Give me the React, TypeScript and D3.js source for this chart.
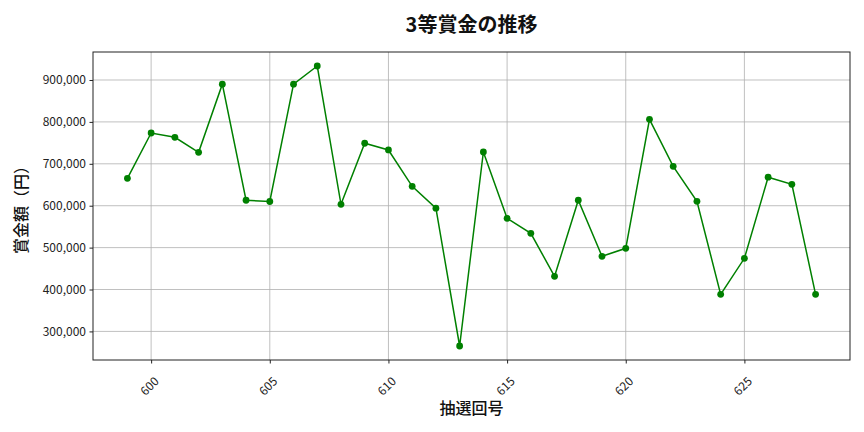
import React, { useEffect, useRef } from "react";
import * as d3 from "d3";

// draw numbers (抽選回号) and 3rd-prize amounts (yen)
const draws = [
  599, 600, 601, 602, 603, 604, 605, 606, 607, 608, 609, 610, 611, 612, 613,
  614, 615, 616, 617, 618, 619, 620, 621, 622, 623, 624, 625, 626, 627, 628,
];
const prizes = [
  665400, 773500, 763200, 727400, 890000, 613000, 610000, 890000, 933400,
  603300, 749000, 733000, 646300, 594000, 265200, 728200, 570000, 534000,
  431500, 613000, 479200, 498300, 806200, 694000, 610500, 388500, 474500,
  668000, 651000, 388500,
];
const yTicks = [300000, 400000, 500000, 600000, 700000, 800000, 900000];
const xTicks = [600, 605, 610, 615, 620, 625];

const W = 864;
const H = 432;
const margin = { top: 52, right: 14, bottom: 72, left: 93 };
const FONT = "'Noto Sans CJK JP', 'Noto Sans', sans-serif";

export default function App() {
  const svgRef = useRef<SVGSVGElement>(null);

  useEffect(() => {
    if (!svgRef.current) return;
    const svg = d3.select(svgRef.current);
    svg.selectAll("*").remove();

    const iw = W - margin.left - margin.right;
    const ih = H - margin.top - margin.bottom;

    // matplotlib-style 5% padding on both axes
    const [x0, x1] = d3.extent(draws) as [number, number];
    const xPad = (x1 - x0) * 0.05;
    const x = d3.scaleLinear().domain([x0 - xPad, x1 + xPad]).range([0, iw]);

    const [y0, y1] = d3.extent(prizes) as [number, number];
    const yPad = (y1 - y0) * 0.05;
    const y = d3.scaleLinear().domain([y0 - yPad, y1 + yPad]).range([ih, 0]);

    const g = svg
      .append("g")
      .attr("transform", `translate(${margin.left},${margin.top})`);

    // grid
    g.selectAll(".gx")
      .data(xTicks)
      .enter()
      .append("line")
      .attr("x1", (d) => x(d))
      .attr("x2", (d) => x(d))
      .attr("y1", 0)
      .attr("y2", ih)
      .attr("stroke", "#b0b0b0")
      .attr("stroke-width", 0.8);
    g.selectAll(".gy")
      .data(yTicks)
      .enter()
      .append("line")
      .attr("x1", 0)
      .attr("x2", iw)
      .attr("y1", (d) => y(d))
      .attr("y2", (d) => y(d))
      .attr("stroke", "#b0b0b0")
      .attr("stroke-width", 0.8);

    // line + markers
    const pts = draws.map((d, i) => [d, prizes[i]] as [number, number]);
    const line = d3
      .line<[number, number]>()
      .x((d) => x(d[0]))
      .y((d) => y(d[1]));
    g.append("path")
      .datum(pts)
      .attr("d", line)
      .attr("fill", "none")
      .attr("stroke", "green")
      .attr("stroke-width", 1.5);
    g.selectAll(".pt")
      .data(pts)
      .enter()
      .append("circle")
      .attr("cx", (d) => x(d[0]))
      .attr("cy", (d) => y(d[1]))
      .attr("r", 3.4)
      .attr("fill", "green");

    // frame
    g.append("rect")
      .attr("width", iw)
      .attr("height", ih)
      .attr("fill", "none")
      .attr("stroke", "#222")
      .attr("stroke-width", 1);

    // y axis
    const yAxis = g
      .append("g")
      .call(
        d3
          .axisLeft(y)
          .tickValues(yTicks)
          .tickSize(3.5)
          .tickPadding(3.5)
          .tickFormat((d) => d3.format(",")(d as number))
      );
    yAxis.select(".domain").remove();
    yAxis
      .selectAll("text")
      .attr("font-family", FONT)
      .attr("font-size", 12)
      .attr("fill", "#222");
    yAxis.selectAll("line").attr("stroke", "#222");

    // x axis
    const xAxis = g
      .append("g")
      .attr("transform", `translate(0,${ih})`)
      .call(d3.axisBottom(x).tickValues(xTicks).tickSize(3.5).tickFormat(d3.format("d")));
    xAxis.select(".domain").remove();
    xAxis.selectAll("line").attr("stroke", "#222");
    xAxis
      .selectAll("text")
      .attr("font-family", FONT)
      .attr("font-size", 12)
      .attr("fill", "#222")
      .attr("text-anchor", "end")
      .attr("dy", null)
      .attr("y", 0)
      .attr("transform", "translate(8,22) rotate(-45)");

    // titles
    svg
      .append("text")
      .attr("x", margin.left + iw / 2)
      .attr("y", 32)
      .attr("text-anchor", "middle")
      .attr("font-family", FONT)
      .attr("font-size", 20)
      .attr("font-weight", "bold")
      .attr("fill", "#111")
      .text("3等賞金の推移");
    svg
      .append("text")
      .attr("x", margin.left + iw / 2)
      .attr("y", 414)
      .attr("text-anchor", "middle")
      .attr("font-family", FONT)
      .attr("font-size", 16)
      .attr("font-weight", 500)
      .attr("fill", "#111")
      .text("抽選回号");
    svg
      .append("text")
      .attr("transform", `translate(27,${margin.top + ih / 2}) rotate(-90)`)
      .attr("text-anchor", "middle")
      .attr("font-family", FONT)
      .attr("font-size", 16)
      .attr("font-weight", 500)
      .attr("fill", "#111")
      .text("賞金額（円）");
  }, []);

  return (
    <svg
      ref={svgRef}
      width={W}
      height={H}
      style={{ position: "absolute", left: 0, top: 0, background: "#fff" }}
    />
  );
}
